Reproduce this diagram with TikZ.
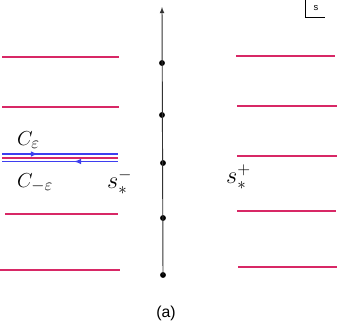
\documentclass[tikz,border=0pt]{standalone}
\usepackage{amsmath, amssymb}
\usepackage{fontspec}
\newfontfamily\capfont{Liberation Sans}
\definecolor{cutred}{RGB}{216,40,102}
\definecolor{pathblue}{RGB}{62,62,240}

\begin{document}
\begin{tikzpicture}[x=0.03cm, y=-0.03cm,
  redline/.style={cutred, line width=1.2pt},
  blueline/.style={pathblue, line width=1.1pt},
  pole/.style={circle, fill=black, inner sep=0pt, minimum size=5pt},
  lbl/.style={inner sep=0pt, font=\fontsize{19}{22}\selectfont},
  biglbl/.style={inner sep=0pt, font=\fontsize{21}{24}\selectfont}]
\useasboundingbox (0,0) rectangle (338,334);

% Imaginary axis with poles
\node[pole] (p1) at (162,63) {};
\node[pole] (p2) at (162,115) {};
\node[pole] (p3) at (163,163) {};
\node[pole] (p4) at (163,218) {};
\node[pole] (p5) at (163,275) {};
\coordinate (top) at (162,7);
\draw[black!80, line width=0.8pt, -latex] (p5.center) -- (top);

% Left cuts
\draw[redline] (2,57) -- (119,57);
\draw[redline] (2,107) -- (119,107);
\draw[redline] (2,158) -- (118,158);
\draw[redline] (5,214) -- (118,214);
\draw[redline] (0,270) -- (120,270);

% Right cuts
\draw[redline] (236,56) -- (335,56);
\draw[redline] (237,106) -- (337,106);
\draw[redline] (237,156) -- (337,156);
\draw[redline] (237,211) -- (336,211);
\draw[redline] (238,267) -- (337,267);

% Contours along the cut
\draw[blueline] (2,154) -- (118,154);
\draw[blueline, -latex] (20,154) -- (38,154);
\draw[blueline] (2,161.5) -- (118,161.5);
\draw[blueline, -latex] (95,161.5) -- (74,161.5);

% Labels
\node[lbl, anchor=base west] (cp) at (17,145) {$C_{\varepsilon}$};
\node[lbl, anchor=base west] (cm) at (17,187) {$C_{-\varepsilon}$};
\node[biglbl, anchor=base west] (sm) at (107,188) {$s_*^-$};
\node[biglbl, anchor=base west] (sp) at (226,183) {$s_*^+$};
\node[font=\capfont\fontsize{13.5}{15}\selectfont] (cap) at (166,313) {(a)};

% Variable box
\coordinate (b1) at (305,0);
\coordinate (b2) at (305,17);
\coordinate (b3) at (325,17);
\draw[line width=0.5pt] (b1) -- (b2) -- (b3);
\node[font=\capfont\fontsize{8}{9}\selectfont] (sv) at (316,8) {s};
\end{tikzpicture}
\end{document}
